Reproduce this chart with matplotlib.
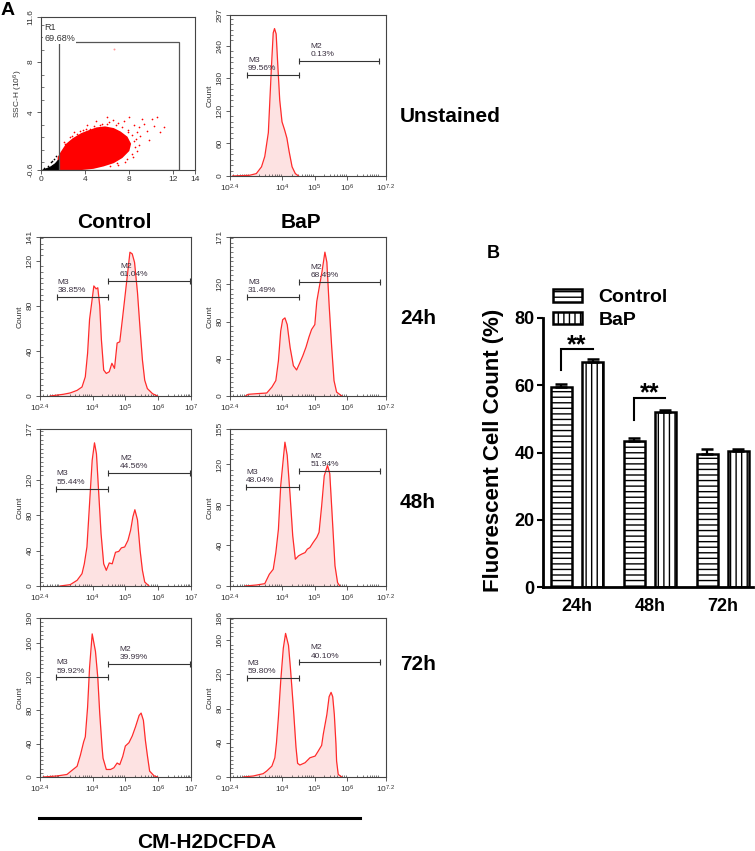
import numpy as np
import matplotlib
matplotlib.use('Agg')
import matplotlib.pyplot as plt
from matplotlib.patches import Rectangle, Polygon, Patch
from matplotlib.ticker import FixedLocator, LogLocator, NullFormatter, MultipleLocator
from matplotlib.lines import Line2D

plt.rcParams['font.family'] = ['Liberation Sans', 'DejaVu Sans']
plt.rcParams['mathtext.fontset'] = 'custom'
plt.rcParams['mathtext.rm'] = 'Liberation Sans'
plt.rcParams['mathtext.it'] = 'Liberation Sans:italic'
plt.rcParams['mathtext.bf'] = 'Liberation Sans:bold'
plt.rcParams['mathtext.default'] = 'regular'
plt.rcParams['hatch.linewidth'] = 1.0

# ---------------- data: scatter (FSC/SSC) ----------------
red_cloud_x = [1.59, 1.59, 1.86, 2.32, 2.93, 3.69, 4.30, 5.06, 5.82, 6.59, 7.20, 7.80, 8.11, 7.96, 7.35, 6.59, 5.67, 4.76, 3.54]
red_cloud_y = [-0.55, 0.41, 0.81, 1.43, 1.88, 2.28, 2.49, 2.73, 2.81, 2.68, 2.41, 2.01, 1.48, 0.95, 0.41, 0.01, -0.25, -0.44, -0.55]
red_dots_x = [10.55, 11.16, 10.09, 9.33, 8.87, 8.41, 7.50, 7.04, 5.98, 5.37, 4.45, 3.84, 3.23, 8.72, 9.02, 8.41, 8.57, 8.26, 7.80, 6.89, 6.28, 9.6, 10.3, 7.9, 6.5, 2.6, 2.1,
              2.2, 2.8, 3.5, 4.1, 4.8, 5.5, 6.2, 6.8, 7.4, 7.9, 8.3, 8.6, 8.9, 8.7, 8.4, 7.6, 7.0, 9.8, 10.8, 9.2, 8.0, 5.0, 4.2, 3.0, 6.0]
red_dots_y = [3.61, 2.81, 3.48, 3.08, 2.81, 2.95, 3.29, 3.16, 3.08, 2.95, 2.68, 2.55, 2.28, 2.41, 2.15, 1.75, 1.21, 0.68, 0.28, -0.07, -0.28, 2.5, 2.9, 2.6, 3.4, 2.0, 1.6,
              1.5, 2.1, 2.5, 2.7, 2.9, 3.1, 3.2, 3.0, 2.8, 2.4, 2.2, 1.9, 1.4, 0.9, 0.4, 0.0, -0.2, 1.8, 2.4, 3.5, 3.6, 3.3, 3.0, 2.4, 3.6]
black_blob_x = [0.15, 0.5, 0.9, 1.3, 1.6, 1.6]
black_blob_y = [-0.6, -0.5, -0.35, -0.1, 0.2, -0.6]
black_dots_x = [0.9, 1.2, 0.6, 1.4, 1.0, 1.5, 0.3]
black_dots_y = [0.0, 0.3, -0.3, 0.5, 0.15, 0.0, -0.45]
outlier_x = [6.65]
outlier_y = [9.08]
gate_r1 = [1.6, -0.6, 12.5, 9.61]   # x0, y0, x1, y1
r1_pct = '69.68%'

# ---------------- data: histograms (log10 intensity, count) ----------------
unst_logx = [2.48, 3.0, 3.21, 3.37, 3.47, 3.58, 3.63, 3.68, 3.73, 3.77, 3.82, 3.87, 3.93, 4.0, 4.08, 4.15, 4.22, 4.31, 4.41, 4.51]
unst_count = [0, 1.3, 4.4, 17, 36, 80, 144, 207, 264, 272, 262, 205, 140, 100, 85, 70, 45, 17, 4.4, 0]

c24_logx = [2.71, 3.11, 3.32, 3.53, 3.68, 3.78, 3.85, 3.91, 3.99, 4.04, 4.11, 4.16, 4.22, 4.27, 4.34, 4.42, 4.51, 4.59, 4.67, 4.75, 4.83, 4.91, 4.98, 5.06, 5.14, 5.21, 5.28, 5.37, 5.45, 5.52, 5.59, 5.67, 5.83, 5.98]
c24_count = [0, 1.5, 2.7, 5, 8, 17, 38, 68, 86, 97.6, 95, 96, 80, 50, 23, 20, 21.5, 29, 24.5, 47, 48, 68, 86, 106.6, 127.5, 126, 118.5, 91.6, 58.8, 32, 14, 6.6, 2, 0]

b24_logx = [2.88, 2.96, 3.22, 3.53, 3.69, 3.81, 3.89, 3.96, 4.02, 4.09, 4.16, 4.25, 4.35, 4.45, 4.54, 4.64, 4.74, 4.83, 4.91, 5.01, 5.07, 5.14, 5.23, 5.32, 5.38, 5.45, 5.53, 5.6, 5.68, 5.84]
b24_count = [0, 1.8, 2.5, 3.2, 9.6, 16.6, 37.9, 69.7, 82, 84, 76.8, 52, 32.6, 28, 35, 43.2, 52.7, 63.4, 71.5, 76.8, 101.6, 115.7, 133.5, 154.7, 144, 98, 52, 16.6, 4.2, 0]

c48_logx = [3.01, 3.32, 3.53, 3.68, 3.75, 3.83, 3.91, 3.99, 4.06, 4.12, 4.19, 4.26, 4.34, 4.42, 4.51, 4.6, 4.7, 4.8, 4.88, 4.98, 5.08, 5.16, 5.23, 5.29, 5.37, 5.45, 5.52, 5.59, 5.72]
c48_count = [0, 1.5, 6.4, 13.9, 25, 44, 93, 141.8, 161.4, 149, 104, 59, 25, 17.7, 26, 25, 38, 39, 43, 44, 51.5, 62.8, 78, 86, 74.5, 40, 17.7, 4.5, 0]

b48_logx = [2.86, 3.22, 3.47, 3.61, 3.73, 3.81, 3.89, 3.96, 4.04, 4.09, 4.16, 4.25, 4.33, 4.41, 4.51, 4.6, 4.71, 4.78, 4.86, 4.96, 5.07, 5.14, 5.22, 5.3, 5.4, 5.47, 5.55, 5.63, 5.71, 5.78]
b48_count = [0, 1, 2.3, 11.6, 16.5, 33, 56, 99, 125.6, 142, 129, 89, 49.6, 26.4, 29.8, 31.4, 33, 36.4, 38, 43, 48, 53, 79, 108.8, 119, 111, 66, 20, 3.3, 0]

c72_logx = [2.5, 2.91, 3.22, 3.37, 3.53, 3.63, 3.73, 3.78, 3.85, 3.91, 3.99, 4.09, 4.16, 4.22, 4.29, 4.32, 4.42, 4.55, 4.65, 4.75, 4.83, 4.92, 5.0, 5.11, 5.21, 5.31, 5.42, 5.48, 5.55, 5.61, 5.67, 5.74, 5.88, 5.98]
c72_count = [0, 1.2, 3, 7.8, 12.8, 26, 42, 48, 83.5, 131, 171, 150, 119, 75.6, 36, 22.5, 9, 9, 11, 16.7, 14.8, 24.5, 37, 41, 49, 60, 73.6, 76.4, 67.7, 44, 26, 7, 1.2, 0]

b72_logx = [2.81, 3.12, 3.42, 3.53, 3.69, 3.78, 3.83, 3.89, 3.96, 4.04, 4.11, 4.2, 4.26, 4.35, 4.43, 4.48, 4.55, 4.71, 4.86, 5.02, 5.11, 5.22, 5.27, 5.38, 5.45, 5.51, 5.56, 5.61, 5.66, 5.68, 5.73, 5.84]
b72_count = [0, 1.2, 3.9, 7, 12.8, 22.5, 40, 70, 112, 150.6, 168, 154, 127, 81, 35, 16, 14, 16.7, 22.5, 24.5, 30, 37, 50, 73, 94, 99, 94, 73, 38.6, 18.6, 3, 0]

# gate markers: (M3 start, M3 end / M2 start, M2 end) in log10 units, and heights
unst_gates = [2.93, 4.51, 6.97]; unst_gate_y = [186, 213]; unst_pct = ['99.56%', '0.13%']
c24_gates = [2.91, 4.48, 6.96]; c24_gate_y = [88, 102]; c24_pct = ['38.85%', '61.04%']
b24_gates = [2.93, 4.52, 7.03]; b24_gate_y = [106.9, 122.8]; b24_pct = ['31.49%', '68.49%']
c48_gates = [2.89, 4.48, 6.96]; c48_gate_y = [109.9, 127.5]; c48_pct = ['55.44%', '44.56%']
b48_gates = [2.88, 4.51, 7.03]; b48_gate_y = [97.5, 113.4]; b48_pct = ['48.04%', '51.94%']
c72_gates = [2.88, 4.46, 6.96]; c72_gate_y = [119, 135.4]; c72_pct = ['59.92%', '39.99%']
b72_gates = [2.91, 4.51, 7.03]; b72_gate_y = [115.8, 134]; b72_pct = ['59.80%', '40.10%']

unst_yticks = [0, 60, 120, 180, 240, 297]
c24_yticks = [0, 40, 80, 120, 141]
b24_yticks = [0, 40, 80, 120, 171]
c48_yticks = [0, 40, 80, 120, 177]
b48_yticks = [0, 40, 80, 120, 155]
c72_yticks = [0, 40, 80, 120, 160, 190]
b72_yticks = [0, 40, 80, 120, 160, 186]

# ---------------- data: bar chart B ----------------
bar_groups = ['24h', '48h', '72h']
ctrl_mean = [59.6, 43.4, 39.5]
ctrl_sem = [0.9, 0.8, 1.5]
bap_mean = [66.9, 51.9, 40.3]
bap_sem = [1.0, 0.8, 0.8]
bar_yticks = [0, 20, 40, 60, 80]

W, H = 755, 851
fig = plt.figure(figsize=(W / 100, H / 100), dpi=100)


def rect(l, t, r, b):
    return [l / W, 1 - b / H, (r - l) / W, (b - t) / H]


def fx(px):
    return px / W


def fy(py):
    return 1 - py / H


TXT = '#333333'
SP = '#444444'


def style_flow(ax):
    for s in ax.spines.values():
        s.set_color(SP)
        s.set_linewidth(0.8)
    ax.tick_params(which='major', direction='out', length=3, width=0.6, colors=SP,
                   labelcolor=TXT, labelsize=6, pad=1.5)
    ax.tick_params(which='minor', direction='in', length=1.8, width=0.5, colors=SP)


# ---------------- scatter panel ----------------
axs = fig.add_axes(rect(41, 17, 195, 170))
axs.add_patch(Polygon(np.column_stack([red_cloud_x, red_cloud_y]), closed=True,
                      facecolor='#ff0000', edgecolor='#ff0000', lw=1.2, zorder=2))
axs.scatter(red_dots_x, red_dots_y, s=1.5, color='#ff0000', lw=0, zorder=2)
axs.add_patch(Polygon(np.column_stack([black_blob_x, black_blob_y]), closed=True,
                      facecolor='black', edgecolor='black', lw=0.8, zorder=2))
axs.scatter(black_dots_x, black_dots_y, s=1.5, color='black', lw=0, zorder=2)
axs.scatter(outlier_x, outlier_y, s=2, color='#ff9999', lw=0, zorder=2)
x0, y0, x1, y1 = gate_r1
axs.add_patch(Rectangle((x0, y0), x1 - x0, y1 - y0, fill=False, edgecolor='#555555', lw=0.9, zorder=3))
axs.text(0.3, 10.75, 'R1', fontsize=6.5, color=TXT, va='center', ha='left', zorder=4)
axs.text(0.3, 9.85, r1_pct, fontsize=6.5, color=TXT, va='center', ha='left', zorder=4,
         bbox=dict(facecolor='white', edgecolor='none', pad=0.6))
axs.set_xlim(0, 14)
axs.set_ylim(-0.6, 11.6)
axs.set_xticks([0, 4, 8, 12, 14])
axs.set_yticks([-0.6, 4, 8, 11.6])
axs.set_yticklabels(['-0.6', '4', '8', '11.6'], rotation=90, va='center')
axs.yaxis.set_minor_locator(MultipleLocator(1))
style_flow(axs)
axs.set_ylabel('SSC-H (10$^6$)', fontsize=6, color=TXT, labelpad=2)


# ---------------- histogram panels ----------------
def flow_hist(rc, logx, count, yticks, xmax, gates, gate_y, pct):
    ax = fig.add_axes(rc)
    x = 10 ** np.array(logx)
    ax.fill_between(x, count, color='#fde2e2', lw=0, zorder=1)
    ax.plot(x, count, color='#ff2b2b', lw=0.9, zorder=2)
    ax.set_xscale('log')
    ax.set_xlim(10 ** 2.4, 10 ** xmax)
    ax.set_ylim(0, yticks[-1])
    xt = [2.4, 4, 5, 6, xmax]
    ax.xaxis.set_major_locator(FixedLocator([10 ** v for v in xt]))
    lbl = ['10$^{%g}$' % v for v in xt]
    ax.set_xticklabels(lbl)
    ax.xaxis.set_minor_locator(LogLocator(base=10, subs=np.arange(2, 10)))
    ax.xaxis.set_minor_formatter(NullFormatter())
    ax.set_yticks(yticks)
    ax.set_yticklabels([str(v) for v in yticks], rotation=90, va='center')
    step = 10 if yticks[1] == 60 else 5
    ax.yaxis.set_minor_locator(MultipleLocator(step))
    style_flow(ax)
    ax.set_ylabel('Count', fontsize=6, color=TXT, labelpad=2)
    g3a, g23, g2b = gates
    for (a, b, yy) in [(g3a, g23, gate_y[0]), (g23, g2b, gate_y[1])]:
        ax.plot([10 ** a, 10 ** b], [yy, yy], color='#333333', lw=0.8, zorder=3)
        ax.plot([10 ** a, 10 ** b], [yy, yy], ls='none', marker='|', ms=5, mew=0.8,
                color='#333333', zorder=3)
    ax.annotate('M3\n' + pct[0], xy=(10 ** g3a, gate_y[0]), xytext=(0.5, 2),
                textcoords='offset points', ha='left', va='bottom', fontsize=6,
                color='#3a3040', linespacing=1.25, zorder=4)
    ax.annotate('M2\n' + pct[1], xy=(10 ** g23, gate_y[1]), xytext=(8.5, 2),
                textcoords='offset points', ha='left', va='bottom', fontsize=6,
                color='#3a3040', linespacing=1.25, zorder=4)
    return ax


CL, CR = 40, 191
BL, BR = 230, 386
flow_hist(rect(BL, 15, BR, 176), unst_logx, unst_count, unst_yticks, 7.2, unst_gates, unst_gate_y, unst_pct)
flow_hist(rect(CL, 237, CR, 396), c24_logx, c24_count, c24_yticks, 7.0, c24_gates, c24_gate_y, c24_pct)
flow_hist(rect(BL, 237, BR, 396), b24_logx, b24_count, b24_yticks, 7.2, b24_gates, b24_gate_y, b24_pct)
flow_hist(rect(CL, 429, CR, 586), c48_logx, c48_count, c48_yticks, 7.0, c48_gates, c48_gate_y, c48_pct)
flow_hist(rect(BL, 429, BR, 586), b48_logx, b48_count, b48_yticks, 7.2, b48_gates, b48_gate_y, b48_pct)
flow_hist(rect(CL, 618, CR, 777), c72_logx, c72_count, c72_yticks, 7.0, c72_gates, c72_gate_y, c72_pct)
flow_hist(rect(BL, 618, BR, 777), b72_logx, b72_count, b72_yticks, 7.2, b72_gates, b72_gate_y, b72_pct)

# ---------------- panel A labels ----------------
fig.text(fx(1), fy(2), 'A', fontsize=14, fontweight='bold', ha='left', va='top')
fig.text(fx(114), fy(222), 'Control', fontsize=15, fontweight='bold', ha='center', va='center')
fig.text(fx(301), fy(222), 'BaP', fontsize=15, fontweight='bold', ha='center', va='center')
fig.text(fx(400), fy(117), 'Unstained', fontsize=15, fontweight='bold', ha='left', va='center')
fig.text(fx(400), fy(319), '24h', fontsize=15, fontweight='bold', ha='left', va='center')
fig.text(fx(400), fy(503), '48h', fontsize=15, fontweight='bold', ha='left', va='center')
fig.text(fx(400), fy(665), '72h', fontsize=15, fontweight='bold', ha='left', va='center')
fig.add_artist(Line2D([fx(39), fx(360)], [fy(818), fy(818)], color='black', lw=2.2))
fig.text(fx(207), fy(842), 'CM-H2DCFDA', fontsize=15, fontweight='bold', ha='center', va='center')

# ---------------- panel B ----------------
fig.text(fx(487), fy(253), 'B', fontsize=13, fontweight='bold', ha='left', va='center')
axb = fig.add_axes(rect(543, 318, 753, 587))
xg = np.arange(len(bar_groups))
off, bw = 0.213, 0.288
axb.bar(xg - off, ctrl_mean, width=bw, color='white', edgecolor='black', lw=1.8, hatch='---', zorder=2)
axb.bar(xg + off, bap_mean, width=bw, color='white', edgecolor='black', lw=1.8, hatch='|||', zorder=2)
axb.errorbar(xg - off, ctrl_mean, yerr=[np.zeros(3), ctrl_sem], fmt='none', ecolor='black',
             elinewidth=1.6, capsize=4.3, capthick=1.8, zorder=3)
axb.errorbar(xg + off, bap_mean, yerr=[np.zeros(3), bap_sem], fmt='none', ecolor='black',
             elinewidth=1.6, capsize=4.3, capthick=1.8, zorder=3)
# significance brackets
for gi, (ylo, yhi, ystar) in enumerate([(64.6, 70.8, 69.8), (49.7, 56.2, 55.5)]):
    axb.plot([gi - off, gi - off, gi + off], [ylo, yhi, yhi], color='black', lw=1.5,
             solid_joinstyle='miter', zorder=3)
    axb.text(gi, ystar, '**', fontsize=18, fontweight='bold', ha='center', va='baseline')
axb.set_xlim(-0.466, 2.414)
axb.set_ylim(0, 80)
axb.set_yticks(bar_yticks)
axb.set_xticks(xg)
axb.set_xticklabels(bar_groups)
for s in ['top', 'right']:
    axb.spines[s].set_visible(False)
for s in ['left', 'bottom']:
    axb.spines[s].set_linewidth(2)
axb.tick_params(axis='y', length=4, width=1.5, pad=2, labelsize=13)
axb.tick_params(axis='x', length=0, pad=8, labelsize=13)
for t in axb.get_xticklabels() + axb.get_yticklabels():
    t.set_fontweight('bold')
fig.text(fx(494), fy(450), 'Fluorescent Cell Count (%)', fontsize=16, fontweight='bold',
         rotation=90, ha='center', va='center')
handles = [Patch(facecolor='white', edgecolor='black', hatch='---', lw=1.8),
           Patch(facecolor='white', edgecolor='black', hatch='|||', lw=1.8)]
fig.legend(handles, ['Control', 'BaP'], loc='upper left', bbox_to_anchor=(fx(553), fy(289)),
           frameon=False, prop={'weight': 'bold', 'size': 14}, handlelength=1.5,
           handleheight=0.62, handletextpad=0.85, labelspacing=0.28, borderpad=0,
           borderaxespad=0)

fig.savefig('out.png', dpi=100)
